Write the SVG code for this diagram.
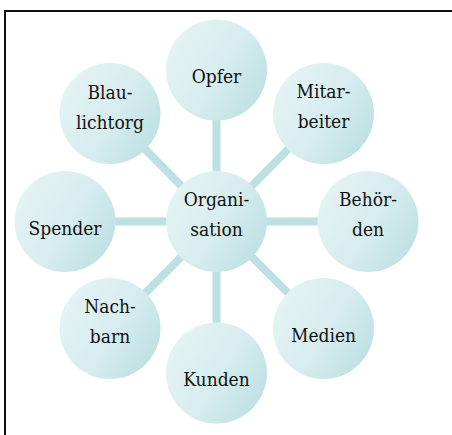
<svg xmlns="http://www.w3.org/2000/svg" width="452" height="435" viewBox="0 0 452 435">
  <defs>
    <linearGradient id="bubble" x1="0" y1="0.2" x2="1" y2="0.8">
      <stop offset="0" stop-color="#e6f4f5"/>
      <stop offset="0.55" stop-color="#d6ecee"/>
      <stop offset="1" stop-color="#bcdfe2"/>
    </linearGradient>
  </defs>
  <style>
    .frame { fill: none; stroke: #111; stroke-width: 2; }
    .link { stroke: #bde0e3; stroke-width: 8; }
    .node circle { fill: url(#bubble); }
    .node text { font-family: "DejaVu Serif Condensed", "DejaVu Serif", serif; font-stretch: condensed; font-size: 19px; fill: #111; text-anchor: middle; }
  </style>

  <rect x="0" y="0" width="452" height="435" fill="#fff"/>
  <rect class="frame" x="5" y="11" width="480" height="460"/>

  <!-- spokes from the hub to each satellite -->
  <g id="connectors">
    <line class="link" x1="216.5" y1="221.5" x2="216.5" y2="70"/>
    <line class="link" x1="216.5" y1="221.5" x2="323.5" y2="113.5"/>
    <line class="link" x1="216.5" y1="221.5" x2="368" y2="221.5"/>
    <line class="link" x1="216.5" y1="221.5" x2="323.5" y2="328.5"/>
    <line class="link" x1="216.5" y1="221.5" x2="216.5" y2="373"/>
    <line class="link" x1="216.5" y1="221.5" x2="110" y2="328.5"/>
    <line class="link" x1="216.5" y1="221.5" x2="65" y2="221.5"/>
    <line class="link" x1="216.5" y1="221.5" x2="110" y2="113.5"/>
  </g>

  <g id="organisation" class="node">
    <circle cx="216.5" cy="221.5" r="50.5"/>
    <text x="216.5" y="205.5">Organi-</text>
    <text x="216.5" y="235.5">sation</text>
  </g>
  <g id="opfer" class="node">
    <circle cx="216.5" cy="70" r="50.5"/>
    <text x="216.5" y="82.5">Opfer</text>
  </g>
  <g id="mitarbeiter" class="node">
    <circle cx="323.5" cy="113.5" r="50.5"/>
    <text x="323.5" y="98">Mitar-</text>
    <text x="323.5" y="128">beiter</text>
  </g>
  <g id="behoerden" class="node">
    <circle cx="368" cy="221.5" r="50.5"/>
    <text x="368" y="205.5">Behör-</text>
    <text x="368" y="235.5">den</text>
  </g>
  <g id="medien" class="node">
    <circle cx="323.5" cy="328.5" r="50.5"/>
    <text x="323.5" y="342">Medien</text>
  </g>
  <g id="kunden" class="node">
    <circle cx="216.5" cy="373" r="50.5"/>
    <text x="216.5" y="385.5">Kunden</text>
  </g>
  <g id="nachbarn" class="node">
    <circle cx="110" cy="328.5" r="50.5"/>
    <text x="110" y="313">Nach-</text>
    <text x="110" y="343">barn</text>
  </g>
  <g id="spender" class="node">
    <circle cx="65" cy="221.5" r="50.5"/>
    <text x="65" y="235">Spender</text>
  </g>
  <g id="blaulichtorg" class="node">
    <circle cx="110" cy="113.5" r="50.5"/>
    <text x="110" y="98.5">Blau-</text>
    <text x="110" y="128.5">lichtorg</text>
  </g>
</svg>
